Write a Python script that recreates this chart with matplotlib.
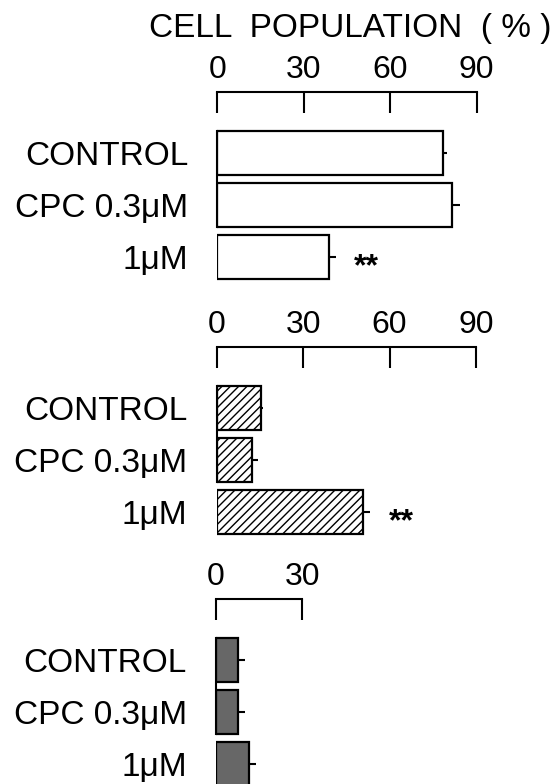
import numpy as np
import matplotlib
matplotlib.use('Agg')
import matplotlib.pyplot as plt

plt.rcParams['font.family'] = ['Liberation Sans', 'DejaVu Sans']
plt.rcParams['hatch.linewidth'] = 1.0

# data
groups = ['CONTROL', 'CPC 0.3\u03bcM', '1\u03bcM']
vals_1 = [78.3, 81.4, 38.7]
errs_1 = [1.4, 3.0, 2.4]
vals_2 = [15.3, 12.4, 50.7]
errs_2 = [0.7, 2.0, 2.5]
vals_3 = [7.8, 7.8, 11.4]
errs_3 = [2.4, 2.4, 2.6]
ticks_1 = [0, 30, 60, 90]
ticks_2 = [0, 30, 60, 90]
ticks_3 = [0, 30]
signif_1 = ['', '', '**']
signif_2 = ['', '', '**']
signif_3 = ['', '', '']

W, H = 559, 784
fig = plt.figure(figsize=(W / 100, H / 100), dpi=100)

px_per_unit = 2.88
bar_step = 52.0
ytop, ybot = -1.173, 2.6


def panel(left_px, top_px, vals, errs, ticks, signif, style):
    w = 110 * px_per_unit
    h = (ybot - ytop) * bar_step
    ax = fig.add_axes([left_px / W, 1 - (top_px + h) / H, w / W, h / H])
    y = np.arange(len(vals))
    ax.barh(y, vals, height=0.85, xerr=[np.zeros(len(errs)), errs],
            error_kw=dict(ecolor='black', elinewidth=1.5, capsize=0),
            edgecolor='black', linewidth=1.6, **style)
    for yi, v, e, s in zip(y, vals, errs, signif):
        if s:
            ax.text(v + e + 6.5, yi + 0.2, s, fontsize=23, fontweight='bold',
                    va='center', ha='left')
    ax.set_xlim(0, 110)
    ax.set_ylim(ybot, ytop)
    for sp in ['right', 'bottom']:
        ax.spines[sp].set_visible(False)
    ax.spines['top'].set_bounds(ticks[0], ticks[-1])
    ax.spines['top'].set_linewidth(1.5)
    ax.spines['left'].set_bounds(-0.42, 1.42)
    ax.spines['left'].set_linewidth(1.5)
    ax.xaxis.tick_top()
    ax.set_xticks(ticks)
    ax.tick_params(axis='x', direction='in', length=15, width=1.5,
                   labelsize=23, pad=5)
    ax.set_yticks(y)
    ax.set_yticklabels(groups)
    ax.tick_params(axis='y', length=0, labelsize=24, pad=21)
    ax.patch.set_visible(False)
    return ax


panel(217.3, 91.7, vals_1, errs_1, ticks_1, signif_1,
      dict(color='white'))
panel(216.7, 346.7, vals_2, errs_2, ticks_2, signif_2,
      dict(color='white', hatch='////'))
panel(216.0, 599.3, vals_3, errs_3, ticks_3, signif_3,
      dict(color='#676767'))

fig.text(350 / W, 1 - 28 / H, 'CELL  POPULATION  ( % )', fontsize=24,
         ha='center', va='center')

fig.savefig('out.png', dpi=100)
